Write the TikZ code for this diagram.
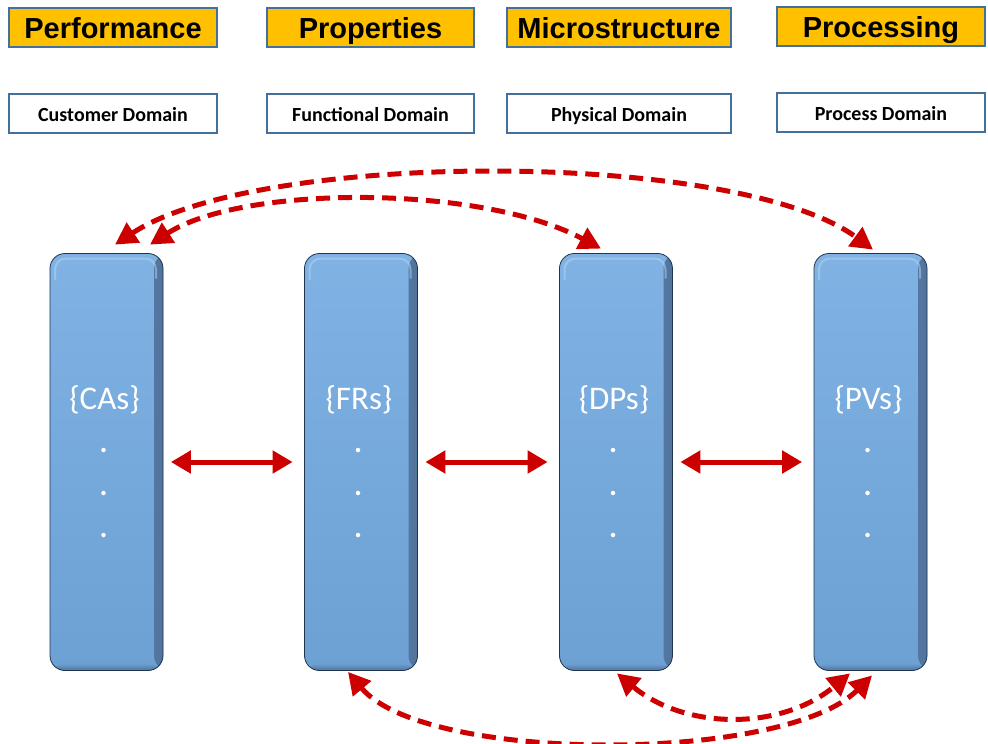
\documentclass[tikz,border=0pt]{standalone}
\usepackage{fontspec}
\setmainfont{Liberation Sans}
\newfontfamily\calib{Carlito}
\usetikzlibrary{arrows.meta,calc}
\definecolor{gold}{HTML}{FFC000}
\definecolor{boxline}{HTML}{41719C}
\definecolor{arrred}{HTML}{CC0000}
\definecolor{pilTop}{HTML}{80B3E4}
\definecolor{pilBot}{HTML}{6DA0D3}
\definecolor{pilMid}{HTML}{76A9DB}
\definecolor{pilEdge}{HTML}{51739C}
\definecolor{pilLine}{HTML}{1F3550}
\definecolor{pilHi}{HTML}{B8D6F3}
\begin{document}
\begin{tikzpicture}[x=1pt,y=-1pt,
  headbox/.style={draw=boxline, line width=1.5pt, fill=gold, minimum width=#1,
    minimum height=39pt, inner sep=0pt, text height=27pt, text depth=6pt,
    font=\fontsize{29pt}{32pt}\selectfont\bfseries},
  domainbox/.style={draw=boxline, line width=1.5pt, fill=white, minimum width=#1,
    minimum height=39pt, inner sep=0pt, text height=19pt, text depth=4pt,
    font=\calib\bfseries\fontsize{20pt}{22pt}\selectfont},
  pillar/.style={rectangle, rounded corners=15pt, minimum width=113pt, minimum height=417pt,
    inner sep=0pt, draw=pilLine, line width=0.8pt, top color=pilTop, bottom color=pilBot,
    path picture={
      \shade[left color=pilMid, right color=pilEdge]
        ([xshift=-9pt]path picture bounding box.north east) rectangle (path picture bounding box.south east);
      \shade[top color=pilBot, bottom color=pilEdge]
        ([yshift=7pt]path picture bounding box.south west) rectangle (path picture bounding box.south east);
      \draw[pilHi, line width=2pt, rounded corners=11pt, opacity=0.5]
        ([shift={(5pt,-26pt)}]path picture bounding box.north west) |-
        ([shift={(-7pt,-5pt)}]path picture bounding box.north east) -- ++(0pt,-20pt);
    }},
  pillartext/.style={text=white, font=\calib\fontsize{33pt}{36pt}\selectfont, inner sep=0pt},
  pdot/.style={circle, fill=white, inner sep=0pt, minimum size=4.5pt},
  harrow/.style={arrred, line width=5pt,
    {Triangle[length=20pt,width=22pt]}-{Triangle[length=20pt,width=22pt]}},
  darrow/.style={arrred, line width=5pt, dash pattern=on 14pt off 8pt,
    {Triangle[length=22pt,width=23pt]}-{Triangle[length=22pt,width=23pt]}}
]
\fill[white] (0,0) rectangle (988,744);
\useasboundingbox (0,0) rectangle (988,744);

% header boxes
\node[headbox=208pt] (perf) at (113,27.5) {Performance};
\node[headbox=207pt] (prop) at (370.5,27.5) {Properties};
\node[headbox=224pt] (micro) at (619,27.5) {Microstructure};
\node[headbox=208pt] (proc) at (881,26.5) {Processing};

% domain boxes
\node[domainbox=208pt] (cust) at (113,113.5) {Customer Domain};
\node[domainbox=207pt] (func) at (370.5,113.5) {Functional Domain};
\node[domainbox=224pt] (phys) at (619,113.5) {Physical Domain};
\node[domainbox=208pt] (prdom) at (881,112.5) {Process Domain};

% pillars
\node[pillar] (ca) at (106.5,462) {};
\node[pillar] (fr) at (361,462) {};
\node[pillar] (dp) at (616,462) {};
\node[pillar] (pv) at (870.5,462) {};

\foreach \p/\t in {ca/CAs, fr/FRs, dp/DPs, pv/PVs}{
  \node[pillartext] (\p-lab) at ($(\p.center)+(-2,-62)$) {\{\t\}};
  \node[pdot] (\p-d1) at ($(\p.center)+(-3,-12)$) {};
  \node[pdot] (\p-d2) at ($(\p.center)+(-3,31)$) {};
  \node[pdot] (\p-d3) at ($(\p.center)+(-3,73)$) {};
}

% horizontal double arrows
\draw[harrow] ([xshift=7.5pt]ca.east) -- ([xshift=-11.5pt]fr.west);
\draw[harrow] ([xshift=7.5pt]fr.east) -- ([xshift=-11.5pt]dp.west);
\draw[harrow] ([xshift=7.5pt]dp.east) -- ([xshift=-11.5pt]pv.west);

% dashed arcs top
\draw[darrow] ([xshift=8.5pt,yshift=8.5pt]ca.north) .. controls +(144,-95) and +(-136,-100) .. ([xshift=2.5pt,yshift=3.5pt]pv.north);
\draw[darrow] ([xshift=43.5pt,yshift=8.5pt]ca.north) .. controls +(93,-60) and +(-120,-64) .. ([xshift=-15pt,yshift=4.5pt]dp.north);

% dashed arcs bottom
\draw[darrow] ([xshift=-13pt,yshift=-1pt]fr.south) .. controls +(77,92) and +(-88,88) .. ([xshift=1.5pt,yshift=-4.5pt]pv.south);
\draw[darrow] ([xshift=1pt,yshift=-2.5pt]dp.south) .. controls +(69,57) and +(-69,57) .. ([xshift=-20.5pt,yshift=-2.5pt]pv.south);
\end{tikzpicture}
\end{document}
